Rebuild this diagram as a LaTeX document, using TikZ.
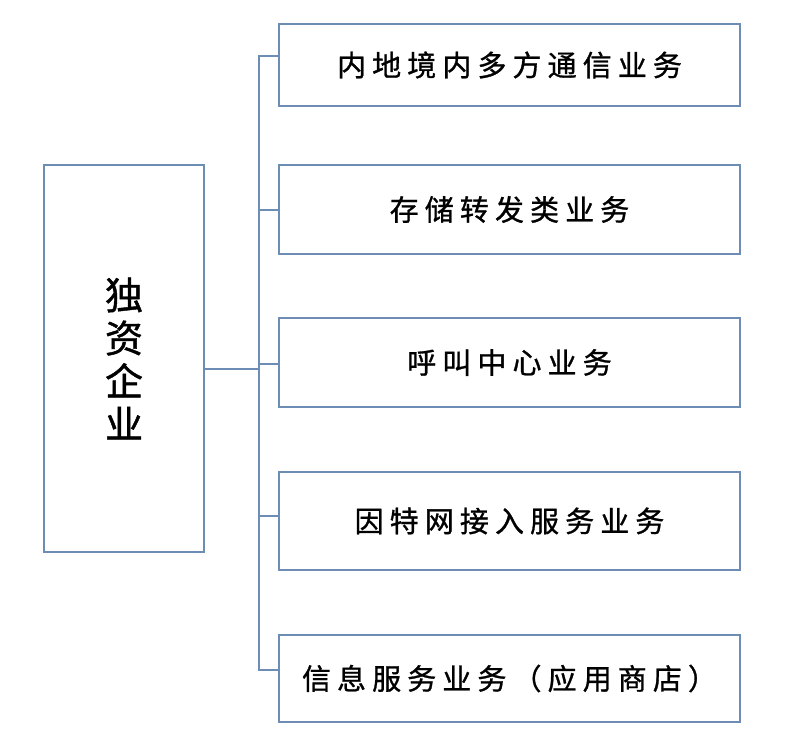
\documentclass[tikz,border=0pt]{standalone}
\usepackage{fontspec}
\newfontfamily\cjk[LetterSpace=21,FakeBold=1]{Noto Sans CJK SC}
\newfontfamily\cjkroot[FakeBold=1.2]{Noto Sans CJK SC}
\usepackage{xcolor}
\definecolor{acc}{HTML}{6E8DB5}
\usetikzlibrary{positioning,calc}
\tikzset{
  box/.style={draw=acc,line width=1.8pt,inner sep=0pt,align=center,fill=white},
  rootbox/.style={box,minimum width=160pt,minimum height=387pt,font=\cjkroot\fontsize{38}{43}\selectfont},
  item/.style={box,minimum width=461pt,font=\cjk\fontsize{29}{34}\selectfont},
  link/.style={draw=acc,line width=1.8pt},
}

\begin{document}
\begin{tikzpicture}[x=1pt,y=-1pt]
\useasboundingbox (0,0) rectangle (785,754);
% root and the five branches
\node[rootbox] (root) at (124,358.5) {独\\资\\企\\业};
\node[item,minimum height=82pt] (b1) at (509.5,65) {内地境内多方通信业务};
\node[item,minimum height=89pt] (b2) at (509.5,209.5) {存储转发类业务};
\node[item,minimum height=89pt] (b3) at (509.5,362.5) {呼叫中心业务};
\node[item,minimum height=98pt] (b4) at (509.5,521) {因特网接入服务业务};
\node[item,minimum height=87pt] (b5) at (509.5,678.5) {信息服务业务（应用商店）};
% junctions on the trunk
\coordinate (j0) at (259,369);
\coordinate (j1) at (259,56);
\coordinate (j2) at (259,210);
\coordinate (j3) at (259,364);
\coordinate (j4) at (259,516);
\coordinate (j5) at (259,670);
\draw[link] (j0 -| root.east) -- (j0);
\draw[link] (j1 -| b1.west) -- (j1) -- (j5) -- (j5 -| b5.west);
\foreach \i in {2,3,4}
  \draw[link] (j\i) -- (j\i -| b\i.west);
\end{tikzpicture}
\end{document}
